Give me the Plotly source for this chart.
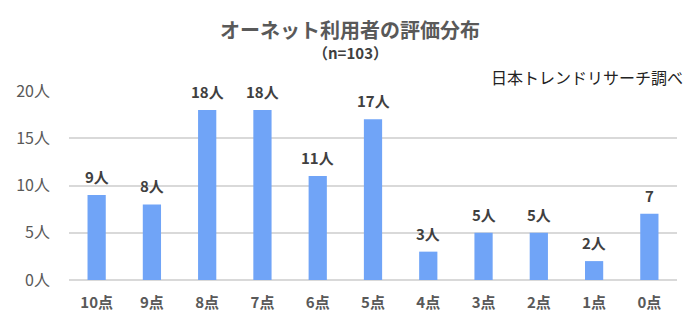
import plotly.graph_objects as go

categories = ["10点", "9点", "8点", "7点", "6点", "5点", "4点", "3点", "2点", "1点", "0点"]
values = [9, 8, 18, 18, 11, 17, 3, 5, 5, 2, 7]
labels = ["9人", "8人", "18人", "18人", "11人", "17人", "3人", "5人", "5人", "2人", "7"]
tick_vals = [0, 5, 10, 15, 20]
tick_text = ["0人", "5人", "10人", "15人", "20人"]

FONT = "Noto Sans CJK JP"
W, H = 700, 330
ML, MR, MT, MB = 69, 23, 91, 50
plot_w = W - ML - MR
plot_h = H - MT - MB

fig = go.Figure(go.Bar(
    x=categories, y=values,
    marker=dict(color="#70A4F7", line=dict(width=0)),
    width=0.33, cliponaxis=False,
))

anns = []
for c, v, t in zip(categories, values, labels):
    anns.append(dict(x=c, y=v, xref="x", yref="y", text=t, showarrow=False,
                     yanchor="bottom", yshift=6,
                     font=dict(family=FONT, size=15, color="#404040", weight="bold")))

def px_x(px):
    return (px - ML) / plot_w

def px_y(py):
    return (H - MB - py) / plot_h

anns += [
    dict(text="オーネット利用者の評価分布", x=px_x(350), xref="paper", xanchor="center",
         y=px_y(30), yref="paper", yanchor="middle", showarrow=False,
         font=dict(family=FONT, size=20, color="#595959", weight="bold")),
    dict(text="（n=103）", x=px_x(350), xref="paper", xanchor="center",
         y=px_y(52), yref="paper", yanchor="middle", showarrow=False,
         font=dict(family=FONT, size=15, color="#404040", weight="bold")),
    dict(text="日本トレンドリサーチ調べ", x=px_x(685), xref="paper", xanchor="right",
         y=px_y(77), yref="paper", yanchor="middle", showarrow=False,
         font=dict(family=FONT, size=16, color="#222222")),
]

fig.update_layout(
    width=W, height=H,
    margin=dict(l=ML, r=MR, t=MT, b=MB),
    paper_bgcolor="white", plot_bgcolor="white",
    showlegend=False,
    font=dict(family=FONT),
    xaxis=dict(
        showgrid=False, showline=False, ticks="",
        tickfont=dict(family=FONT, size=15, color="#595959", weight="bold"),
        ticklabelstandoff=12,
    ),
    yaxis=dict(
        range=[0, 20], tickvals=tick_vals, ticktext=tick_text,
        showgrid=True, gridcolor="#D9D9D9", gridwidth=2,
        zeroline=True, zerolinecolor="#D9D9D9", zerolinewidth=2,
        tickfont=dict(family=FONT, size=16, color="#595959"),
        ticklabelstandoff=18,
    ),
    annotations=anns,
)

fig.write_html("out.html")
